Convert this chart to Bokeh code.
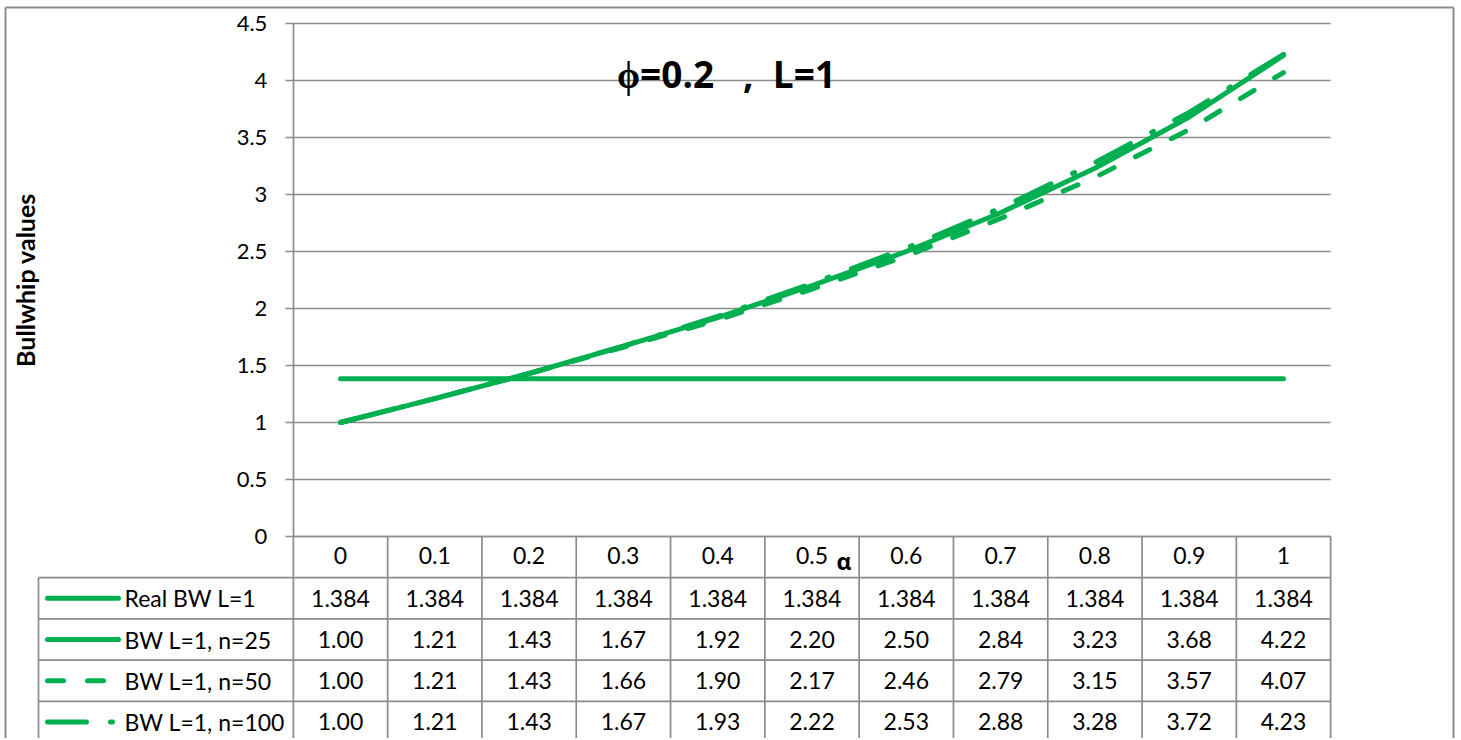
from bokeh.plotting import figure
from bokeh.models import Range1d, LinearAxis, FixedTicker, CustomJSTickFormatter
from bokeh.core.properties import value
from bokeh.embed import file_html
from bokeh.resources import INLINE

# ---------------- data ----------------
alpha = [0, 0.1, 0.2, 0.3, 0.4, 0.5, 0.6, 0.7, 0.8, 0.9, 1]
real_bw = [1.384, 1.384, 1.384, 1.384, 1.384, 1.384, 1.384, 1.384, 1.384, 1.384, 1.384]
bw_n25 = [1.00, 1.21, 1.43, 1.67, 1.92, 2.20, 2.50, 2.84, 3.23, 3.68, 4.22]
bw_n50 = [1.00, 1.21, 1.43, 1.66, 1.90, 2.17, 2.46, 2.79, 3.15, 3.57, 4.07]
bw_n100 = [1.00, 1.21, 1.43, 1.67, 1.93, 2.22, 2.53, 2.88, 3.28, 3.72, 4.23]
series_names = ["Real BW L=1", "BW L=1, n=25", "BW L=1, n=50", "BW L=1, n=100"]
series_fmt = ["{:.3f}", "{:.2f}", "{:.2f}", "{:.2f}"]
y_ticks = [0, 0.5, 1, 1.5, 2, 2.5, 3, 3.5, 4, 4.5]
title_text = "ϕ=0.2\u00a0\u00a0\u00a0,\u00a0\u00a0L=1"
y_label = "Bullwhip values"
x_label = "α"

series = [real_bw, bw_n25, bw_n50, bw_n100]
dashes = ["solid", "solid", "16 24", "39 24 2 24"]

# ---------------- layout (pixels) ----------------
W, H = 1456, 738
PAGE = 0
X0 = 340.0   # canvas px of alpha = 0
XS = 943.0   # px per alpha unit
Y0 = 536.0   # canvas px (from top) of value 0
YS = 114.0   # px per value unit
RH = 41.2    # table row height px

GREEN = "#00B050"
GRID = "#8c8c8c"
TXT = "#000000"
FONT = "Lato"


def ax(page_x):
    return (page_x - PAGE - X0) / XS


def ay(page_y):
    return (Y0 - (page_y - PAGE)) / YS


def ar(page_y):
    return ((page_y - PAGE) - Y0) / RH


p = figure(width=W, height=H, output_backend="svg", toolbar_location=None,
           x_range=Range1d(-X0 / XS, (W - X0) / XS),
           y_range=Range1d(-(H - Y0) / YS, Y0 / YS),
           x_axis_type=None, y_axis_type=None, min_border=0)
p.extra_y_ranges = {"tbl": Range1d((H - Y0) / RH, -Y0 / RH)}
p.outline_line_color = None
p.background_fill_color = "white"
p.border_fill_color = "white"

step = alpha[1] - alpha[0]
edges = [a - step / 2 for a in alpha] + [alpha[-1] + step / 2]
left_edge, right_edge = edges[0], edges[-1]
legend_left = ax(38)

# outer border (left, top, right)
bx0, bx1, by_top = ax(5), ax(1453), ay(7)
p.segment(x0=[bx0, bx0, bx1], y0=[by_top, by_top, by_top],
          x1=[bx0, bx1, bx1], y1=[-10, by_top, -10],
          line_color=GRID, line_width=2)

# horizontal gridlines
p.segment(x0=left_edge, x1=right_edge, y0=y_ticks[1:], y1=y_ticks[1:],
          line_color=GRID, line_width=1.7)

# ---------------- data table ----------------
nrows = len(series)
p.segment(x0=left_edge, x1=right_edge, y0=0, y1=0, line_color=GRID,
          line_width=1.7, y_range_name="tbl")
p.segment(x0=legend_left, x1=right_edge,
          y0=list(range(1, nrows + 2)), y1=list(range(1, nrows + 2)),
          line_color=GRID, line_width=1.7, y_range_name="tbl")
p.segment(x0=edges, x1=edges, y0=0, y1=nrows + 1, line_color=GRID,
          line_width=1.7, y_range_name="tbl")
p.segment(x0=legend_left, x1=legend_left, y0=1, y1=nrows + 1, line_color=GRID,
          line_width=1.7, y_range_name="tbl")

for k, (vals, fmt) in enumerate(zip(series, series_fmt)):
    r = k + 1.5
    p.text(x=alpha, y=[r] * len(alpha), text=[fmt.format(v) for v in vals],
           text_align="center", text_baseline="middle",
           text_font=value(FONT), text_font_size="23px", text_color=TXT,
           y_range_name="tbl")

kx0, kx1, tx = ax(47), ax(118), ax(124)
for k, (name, dash) in enumerate(zip(series_names, dashes)):
    r = k + 1.5
    p.line(x=[kx0, kx1], y=[r, r], line_color=GREEN, line_width=5,
           line_cap="round", line_dash=dash, y_range_name="tbl")
    p.text(x=[tx], y=[r], text=[name], text_align="left", text_baseline="middle",
           text_font=value(FONT), text_font_size="23px", text_color=TXT,
           y_range_name="tbl")

# ---------------- series lines ----------------
for vals, dash in zip(series, dashes):
    p.line(x=alpha, y=vals, line_color=GREEN, line_width=5,
           line_cap="round", line_join="round", line_dash=dash)

# ---------------- axes ----------------
yax = LinearAxis(fixed_location=left_edge, bounds=(y_ticks[0], y_ticks[-1]),
                 ticker=FixedTicker(ticks=y_ticks),
                 formatter=CustomJSTickFormatter(code="return tick.toString()"),
                 axis_label=y_label)
yax.axis_line_color = GRID
yax.axis_line_width = 1.7
yax.major_tick_line_color = GRID
yax.major_tick_line_width = 1.7
yax.major_tick_out = 8
yax.major_tick_in = 0
yax.minor_tick_line_color = None
yax.major_label_text_font = FONT
yax.major_label_text_font_size = "22px"
yax.major_label_text_color = TXT
yax.major_label_standoff = 18
yax.axis_label_text_font = FONT
yax.axis_label_text_font_style = "bold"
yax.axis_label_text_font_size = "25px"
yax.axis_label_text_color = TXT
yax.axis_label_standoff = 194
p.add_layout(yax, "left")

xax = LinearAxis(fixed_location=y_ticks[0], bounds=(left_edge, right_edge),
                 ticker=FixedTicker(ticks=alpha),
                 formatter=CustomJSTickFormatter(code="return tick.toString()"))
xax.axis_line_color = GRID
xax.axis_line_width = 1.7
xax.major_tick_line_color = None
xax.minor_tick_line_color = None
xax.major_tick_out = 0
xax.major_tick_in = 0
xax.major_label_text_font = FONT
xax.major_label_text_font_size = "23px"
xax.major_label_text_color = TXT
xax.major_label_standoff = 10
p.add_layout(xax, "below")

p.text(x=[ax(836)], y=[ar(560)], text=[x_label], text_align="left",
       text_baseline="alphabetic", text_font=value("Open Sans"),
       text_font_style="bold", text_font_size="23px", text_color=TXT,
       y_range_name="tbl")
p.text(x=[ax(726)], y=[ay(73)], text=[title_text], text_align="center",
       text_baseline="alphabetic", text_font=value("Open Sans"),
       text_font_style="bold", text_font_size="37px", text_color=TXT)

open("out.html", "w").write(file_html(p, INLINE))
